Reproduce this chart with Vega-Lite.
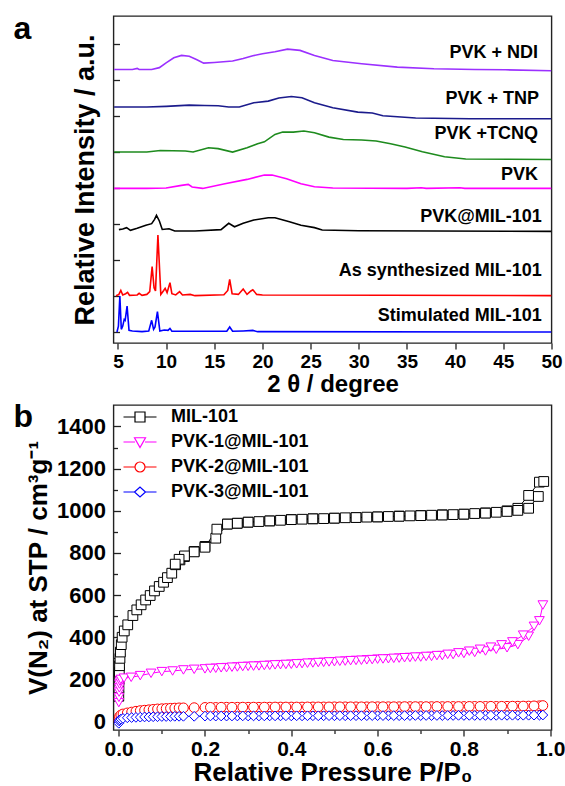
{
"$schema": "https://vega.github.io/schema/vega-lite/v6.json",
"background": "white",
"padding": {"left": 12.5, "top": 12, "right": 5, "bottom": 0},
"spacing": 3,
"resolve": {"legend": {"stroke": "independent", "shape": "independent", "color": "independent"}},
"config": {
  "font": "Liberation Sans",
  "view": {"stroke": "#222222", "strokeWidth": 1.4},
  "axis": {"domain": false, "grid": false, "labelFont": "Liberation Sans", "labelFontWeight": "bold", "labelColor": "black", "titleFont": "Liberation Sans", "titleFontWeight": "bold", "titleColor": "black", "tickColor": "#222222", "tickWidth": 1.3, "labelFlush": false, "labelOverlap": false},
  "title": {"font": "Liberation Sans", "fontWeight": "bold", "color": "black"},
  "legend": {"orient": "top-left", "offset": 3, "padding": 0, "labelFontSize": 18, "labelFont": "Liberation Sans", "labelFontWeight": "bold", "labelColor": "black", "labelLimit": 300, "symbolSize": 100, "symbolStrokeWidth": 1.2, "symbolFillColor": "white", "symbolOffset": 14.5, "labelOffset": 22, "rowPadding": 7}
},
"datasets": {
  "xrd": [
    {"s":"NDI","t":4.6,"v":14.59},{"s":"NDI","t":6.5,"v":14.59},{"s":"NDI","t":7.0,"v":14.65},{"s":"NDI","t":7.2,"v":14.59},{"s":"NDI","t":8.5,"v":14.59},{"s":"NDI","t":9.3,"v":14.69},{"s":"NDI","t":10.0,"v":14.96},{"s":"NDI","t":10.8,"v":15.24},{"s":"NDI","t":11.6,"v":15.37},{"s":"NDI","t":12.4,"v":15.32},{"s":"NDI","t":13.2,"v":15.13},{"s":"NDI","t":13.9,"v":14.94},{"s":"NDI","t":15.0,"v":14.98},{"s":"NDI","t":16.9,"v":15.06},{"s":"NDI","t":18.0,"v":15.2},{"s":"NDI","t":19.0,"v":15.35},{"s":"NDI","t":20.0,"v":15.46},{"s":"NDI","t":21.3,"v":15.57},{"s":"NDI","t":22.6,"v":15.72},{"s":"NDI","t":23.9,"v":15.65},{"s":"NDI","t":25.4,"v":15.37},{"s":"NDI","t":27.3,"v":15.09},{"s":"NDI","t":30.3,"v":14.91},{"s":"NDI","t":34.0,"v":14.72},{"s":"NDI","t":37.8,"v":14.63},{"s":"NDI","t":42.0,"v":14.59},{"s":"NDI","t":45.2,"v":14.57},{"s":"NDI","t":50,"v":14.52},
    {"s":"TNP","t":4.6,"v":12.5},{"s":"TNP","t":8,"v":12.5},{"s":"TNP","t":10,"v":12.54},{"s":"TNP","t":12.4,"v":12.61},{"s":"TNP","t":14,"v":12.59},{"s":"TNP","t":15.4,"v":12.57},{"s":"TNP","t":16.5,"v":12.5},{"s":"TNP","t":17.6,"v":12.5},{"s":"TNP","t":19.1,"v":12.74},{"s":"TNP","t":20.6,"v":12.83},{"s":"TNP","t":21.7,"v":13.0},{"s":"TNP","t":23.0,"v":13.09},{"s":"TNP","t":24.1,"v":13.02},{"s":"TNP","t":25.4,"v":12.74},{"s":"TNP","t":27.3,"v":12.46},{"s":"TNP","t":29.9,"v":12.22},{"s":"TNP","t":31.4,"v":12.17},{"s":"TNP","t":32.5,"v":12.02},{"s":"TNP","t":35.9,"v":11.89},{"s":"TNP","t":41.5,"v":11.85},{"s":"TNP","t":50,"v":11.85},
    {"s":"TCNQ","t":4.6,"v":10.0},{"s":"TCNQ","t":8,"v":10.0},{"s":"TCNQ","t":9.4,"v":10.09},{"s":"TCNQ","t":12.0,"v":10.06},{"s":"TCNQ","t":12.8,"v":10.0},{"s":"TCNQ","t":14.4,"v":10.24},{"s":"TCNQ","t":15.4,"v":10.19},{"s":"TCNQ","t":16.9,"v":10.0},{"s":"TCNQ","t":18.4,"v":10.24},{"s":"TCNQ","t":19.5,"v":10.46},{"s":"TCNQ","t":20.2,"v":10.57},{"s":"TCNQ","t":21.3,"v":10.98},{"s":"TCNQ","t":22.1,"v":11.11},{"s":"TCNQ","t":23.2,"v":11.11},{"s":"TCNQ","t":24.3,"v":11.17},{"s":"TCNQ","t":25.4,"v":11.07},{"s":"TCNQ","t":26.9,"v":10.83},{"s":"TCNQ","t":28.4,"v":10.7},{"s":"TCNQ","t":30.3,"v":10.67},{"s":"TCNQ","t":31.8,"v":10.61},{"s":"TCNQ","t":33.3,"v":10.46},{"s":"TCNQ","t":34.8,"v":10.28},{"s":"TCNQ","t":36.6,"v":10.02},{"s":"TCNQ","t":38.9,"v":9.74},{"s":"TCNQ","t":41.1,"v":9.61},{"s":"TCNQ","t":50,"v":9.59},
    {"s":"PVK","t":4.6,"v":7.98},{"s":"PVK","t":8,"v":7.98},{"s":"PVK","t":10,"v":8.0},{"s":"PVK","t":11.6,"v":8.15},{"s":"PVK","t":12.3,"v":8.2},{"s":"PVK","t":12.7,"v":8.06},{"s":"PVK","t":13.8,"v":7.98},{"s":"PVK","t":16.1,"v":8.24},{"s":"PVK","t":18.4,"v":8.48},{"s":"PVK","t":20.2,"v":8.72},{"s":"PVK","t":21.0,"v":8.72},{"s":"PVK","t":22.5,"v":8.52},{"s":"PVK","t":24.0,"v":8.24},{"s":"PVK","t":25.4,"v":8.07},{"s":"PVK","t":27.3,"v":8.0},{"s":"PVK","t":35,"v":7.98},{"s":"PVK","t":36.5,"v":8.02},{"s":"PVK","t":37,"v":7.98},{"s":"PVK","t":40.5,"v":8.02},{"s":"PVK","t":41,"v":7.98},{"s":"PVK","t":50,"v":7.98},
    {"s":"PM","t":5.1,"v":5.69},{"s":"PM","t":5.5,"v":5.72},{"s":"PM","t":5.9,"v":5.8},{"s":"PM","t":6.3,"v":5.65},{"s":"PM","t":7.0,"v":5.76},{"s":"PM","t":7.9,"v":5.93},{"s":"PM","t":8.5,"v":6.02},{"s":"PM","t":8.8,"v":6.26},{"s":"PM","t":9.0,"v":6.48},{"s":"PM","t":9.3,"v":6.17},{"s":"PM","t":9.6,"v":5.7},{"s":"PM","t":10.3,"v":5.74},{"s":"PM","t":10.9,"v":5.61},{"s":"PM","t":13,"v":5.61},{"s":"PM","t":15.7,"v":5.69},{"s":"PM","t":16.5,"v":6.04},{"s":"PM","t":17.1,"v":5.85},{"s":"PM","t":18.0,"v":6.04},{"s":"PM","t":19.1,"v":6.22},{"s":"PM","t":20.6,"v":6.35},{"s":"PM","t":21.3,"v":6.35},{"s":"PM","t":22.8,"v":6.13},{"s":"PM","t":24.0,"v":5.93},{"s":"PM","t":25.4,"v":5.8},{"s":"PM","t":26.2,"v":5.67},{"s":"PM","t":30,"v":5.63},{"s":"PM","t":50,"v":5.59},
    {"s":"AS","t":4.8,"v":2.02},{"s":"AS","t":5.1,"v":2.09},{"s":"AS","t":5.3,"v":2.31},{"s":"AS","t":5.5,"v":2.06},{"s":"AS","t":5.8,"v":2.13},{"s":"AS","t":6.0,"v":2.2},{"s":"AS","t":6.2,"v":2.04},{"s":"AS","t":7.0,"v":2.06},{"s":"AS","t":7.2,"v":2.15},{"s":"AS","t":7.5,"v":2.04},{"s":"AS","t":8.0,"v":2.09},{"s":"AS","t":8.3,"v":2.24},{"s":"AS","t":8.55,"v":3.63},{"s":"AS","t":8.75,"v":2.46},{"s":"AS","t":8.9,"v":2.28},{"s":"AS","t":9.15,"v":5.39},{"s":"AS","t":9.45,"v":2.09},{"s":"AS","t":9.75,"v":2.31},{"s":"AS","t":9.9,"v":2.43},{"s":"AS","t":10.1,"v":2.19},{"s":"AS","t":10.4,"v":2.74},{"s":"AS","t":10.6,"v":2.13},{"s":"AS","t":11.0,"v":2.06},{"s":"AS","t":11.4,"v":2.24},{"s":"AS","t":11.7,"v":2.06},{"s":"AS","t":12.5,"v":2.09},{"s":"AS","t":13,"v":2.02},{"s":"AS","t":16.0,"v":2.07},{"s":"AS","t":16.4,"v":2.31},{"s":"AS","t":16.6,"v":2.93},{"s":"AS","t":16.85,"v":2.13},{"s":"AS","t":17.5,"v":2.09},{"s":"AS","t":18.0,"v":2.39},{"s":"AS","t":18.4,"v":2.09},{"s":"AS","t":18.8,"v":2.28},{"s":"AS","t":19.0,"v":2.35},{"s":"AS","t":19.4,"v":2.09},{"s":"AS","t":20,"v":2.06},{"s":"AS","t":50,"v":2.02},
    {"s":"ST","t":4.9,"v":0},{"s":"ST","t":5.05,"v":0.33},{"s":"ST","t":5.2,"v":2.0},{"s":"ST","t":5.35,"v":0.15},{"s":"ST","t":5.5,"v":0.33},{"s":"ST","t":5.65,"v":0.7},{"s":"ST","t":5.75,"v":0.65},{"s":"ST","t":5.95,"v":1.44},{"s":"ST","t":6.15,"v":0.09},{"s":"ST","t":6.5,"v":0.06},{"s":"ST","t":7.5,"v":0.02},{"s":"ST","t":8.2,"v":0.06},{"s":"ST","t":8.5,"v":0.65},{"s":"ST","t":8.7,"v":0.15},{"s":"ST","t":8.85,"v":0.28},{"s":"ST","t":9.1,"v":1.13},{"s":"ST","t":9.35,"v":0.06},{"s":"ST","t":9.8,"v":0.11},{"s":"ST","t":10.2,"v":0.09},{"s":"ST","t":10.4,"v":0.2},{"s":"ST","t":10.6,"v":0.04},{"s":"ST","t":11.5,"v":0.04},{"s":"ST","t":16.3,"v":0.04},{"s":"ST","t":16.6,"v":0.28},{"s":"ST","t":16.9,"v":0.04},{"s":"ST","t":18,"v":0.06},{"s":"ST","t":19,"v":0.09},{"s":"ST","t":19.5,"v":0.02},{"s":"ST","t":50,"v":0}
  ],
  "lab": [
    {"s":"PVK + NDI","t":48.6,"v":15.52},{"s":"PVK + TNP","t":48.7,"v":12.96},{"s":"PVK +TCNQ","t":48.6,"v":11.02},{"s":"PVK","t":48.6,"v":8.7},{"s":"PVK@MIL-101","t":49.0,"v":6.39},{"s":"As synthesized MIL-101","t":49.0,"v":3.39},{"s":"Stimulated MIL-101","t":49.0,"v":0.89}
  ],
  "iso": [
    {"s":"MIL-101","b":"a","p":0.0003,"v":120},{"s":"MIL-101","b":"a","p":0.0006,"v":160},{"s":"MIL-101","b":"a","p":0.001,"v":200},{"s":"MIL-101","b":"a","p":0.0015,"v":235},{"s":"MIL-101","b":"a","p":0.002,"v":265},{"s":"MIL-101","b":"a","p":0.003,"v":300},{"s":"MIL-101","b":"a","p":0.004,"v":330},{"s":"MIL-101","b":"a","p":0.006,"v":365},{"s":"MIL-101","b":"a","p":0.008,"v":400},{"s":"MIL-101","b":"a","p":0.013,"v":430},{"s":"MIL-101","b":"a","p":0.021,"v":459},{"s":"MIL-101","b":"a","p":0.033,"v":503},{"s":"MIL-101","b":"a","p":0.042,"v":530},{"s":"MIL-101","b":"a","p":0.052,"v":554},{"s":"MIL-101","b":"a","p":0.0625,"v":577},{"s":"MIL-101","b":"a","p":0.073,"v":598},{"s":"MIL-101","b":"a","p":0.083,"v":620},{"s":"MIL-101","b":"a","p":0.094,"v":641},{"s":"MIL-101","b":"a","p":0.104,"v":661},{"s":"MIL-101","b":"a","p":0.113,"v":683},{"s":"MIL-101","b":"a","p":0.123,"v":704},{"s":"MIL-101","b":"a","p":0.132,"v":744},{"s":"MIL-101","b":"a","p":0.142,"v":767},{"s":"MIL-101","b":"a","p":0.1525,"v":783},{"s":"MIL-101","b":"a","p":0.175,"v":807},{"s":"MIL-101","b":"a","p":0.2,"v":831},{"s":"MIL-101","b":"a","p":0.225,"v":870},{"s":"MIL-101","b":"a","p":0.252,"v":937},{"s":"MIL-101","b":"a","p":0.275,"v":941},{"s":"MIL-101","b":"a","p":0.3,"v":946},{"s":"MIL-101","b":"a","p":0.325,"v":949},{"s":"MIL-101","b":"a","p":0.35,"v":952},{"s":"MIL-101","b":"a","p":0.375,"v":955},{"s":"MIL-101","b":"a","p":0.4,"v":959},{"s":"MIL-101","b":"a","p":0.425,"v":960},{"s":"MIL-101","b":"a","p":0.45,"v":962},{"s":"MIL-101","b":"a","p":0.475,"v":963},{"s":"MIL-101","b":"a","p":0.5,"v":965},{"s":"MIL-101","b":"a","p":0.525,"v":967},{"s":"MIL-101","b":"a","p":0.55,"v":968},{"s":"MIL-101","b":"a","p":0.575,"v":970},{"s":"MIL-101","b":"a","p":0.6,"v":971},{"s":"MIL-101","b":"a","p":0.625,"v":973},{"s":"MIL-101","b":"a","p":0.65,"v":975},{"s":"MIL-101","b":"a","p":0.675,"v":976},{"s":"MIL-101","b":"a","p":0.7,"v":978},{"s":"MIL-101","b":"a","p":0.725,"v":979},{"s":"MIL-101","b":"a","p":0.75,"v":981},{"s":"MIL-101","b":"a","p":0.775,"v":982},{"s":"MIL-101","b":"a","p":0.8,"v":984},{"s":"MIL-101","b":"a","p":0.825,"v":987},{"s":"MIL-101","b":"a","p":0.85,"v":990},{"s":"MIL-101","b":"a","p":0.875,"v":993},{"s":"MIL-101","b":"a","p":0.9,"v":1000},{"s":"MIL-101","b":"a","p":0.925,"v":1012},{"s":"MIL-101","b":"a","p":0.95,"v":1073},{"s":"MIL-101","b":"a","p":0.975,"v":1136},{"s":"MIL-101","b":"a","p":0.985,"v":1139},
    {"s":"MIL-101","b":"d","p":0.9725,"v":1068},{"s":"MIL-101","b":"d","p":0.95,"v":1012},{"s":"MIL-101","b":"d","p":0.925,"v":1002},{"s":"MIL-101","b":"d","p":0.9,"v":997},{"s":"MIL-101","b":"d","p":0.85,"v":989},{"s":"MIL-101","b":"d","p":0.8,"v":984},{"s":"MIL-101","b":"d","p":0.75,"v":980},{"s":"MIL-101","b":"d","p":0.7,"v":977},{"s":"MIL-101","b":"d","p":0.65,"v":974},{"s":"MIL-101","b":"d","p":0.6,"v":971},{"s":"MIL-101","b":"d","p":0.55,"v":968},{"s":"MIL-101","b":"d","p":0.5,"v":965},{"s":"MIL-101","b":"d","p":0.45,"v":962},{"s":"MIL-101","b":"d","p":0.4,"v":958},{"s":"MIL-101","b":"d","p":0.35,"v":952},{"s":"MIL-101","b":"d","p":0.3,"v":946},{"s":"MIL-101","b":"d","p":0.275,"v":941},{"s":"MIL-101","b":"d","p":0.252,"v":937},{"s":"MIL-101","b":"d","p":0.2275,"v":913},{"s":"MIL-101","b":"d","p":0.2,"v":827},{"s":"MIL-101","b":"d","p":0.175,"v":805},{"s":"MIL-101","b":"d","p":0.1525,"v":786},{"s":"MIL-101","b":"d","p":0.14,"v":770},{"s":"MIL-101","b":"d","p":0.131,"v":747},
    {"s":"PVK-1@MIL-101","b":"a","p":0.0003,"v":90},{"s":"PVK-1@MIL-101","b":"a","p":0.0006,"v":115},{"s":"PVK-1@MIL-101","b":"a","p":0.001,"v":140},{"s":"PVK-1@MIL-101","b":"a","p":0.0015,"v":160},{"s":"PVK-1@MIL-101","b":"a","p":0.002,"v":178},{"s":"PVK-1@MIL-101","b":"a","p":0.003,"v":192},{"s":"PVK-1@MIL-101","b":"a","p":0.005,"v":200},{"s":"PVK-1@MIL-101","b":"a","p":0.0125,"v":206},{"s":"PVK-1@MIL-101","b":"a","p":0.029,"v":210},{"s":"PVK-1@MIL-101","b":"a","p":0.05,"v":218},{"s":"PVK-1@MIL-101","b":"a","p":0.075,"v":229},{"s":"PVK-1@MIL-101","b":"a","p":0.1,"v":237},{"s":"PVK-1@MIL-101","b":"a","p":0.125,"v":240},{"s":"PVK-1@MIL-101","b":"a","p":0.15,"v":245},{"s":"PVK-1@MIL-101","b":"a","p":0.175,"v":248},{"s":"PVK-1@MIL-101","b":"a","p":0.2,"v":250},{"s":"PVK-1@MIL-101","b":"a","p":0.225,"v":253},{"s":"PVK-1@MIL-101","b":"a","p":0.25,"v":256},{"s":"PVK-1@MIL-101","b":"a","p":0.275,"v":259},{"s":"PVK-1@MIL-101","b":"a","p":0.3,"v":262},{"s":"PVK-1@MIL-101","b":"a","p":0.325,"v":264},{"s":"PVK-1@MIL-101","b":"a","p":0.35,"v":267},{"s":"PVK-1@MIL-101","b":"a","p":0.375,"v":270},{"s":"PVK-1@MIL-101","b":"a","p":0.4,"v":272},{"s":"PVK-1@MIL-101","b":"a","p":0.425,"v":275},{"s":"PVK-1@MIL-101","b":"a","p":0.45,"v":278},{"s":"PVK-1@MIL-101","b":"a","p":0.475,"v":281},{"s":"PVK-1@MIL-101","b":"a","p":0.5,"v":284},{"s":"PVK-1@MIL-101","b":"a","p":0.525,"v":287},{"s":"PVK-1@MIL-101","b":"a","p":0.55,"v":290},{"s":"PVK-1@MIL-101","b":"a","p":0.575,"v":293},{"s":"PVK-1@MIL-101","b":"a","p":0.6,"v":296},{"s":"PVK-1@MIL-101","b":"a","p":0.625,"v":298},{"s":"PVK-1@MIL-101","b":"a","p":0.65,"v":301},{"s":"PVK-1@MIL-101","b":"a","p":0.675,"v":304},{"s":"PVK-1@MIL-101","b":"a","p":0.7,"v":306},{"s":"PVK-1@MIL-101","b":"a","p":0.725,"v":309},{"s":"PVK-1@MIL-101","b":"a","p":0.75,"v":313},{"s":"PVK-1@MIL-101","b":"a","p":0.775,"v":318},{"s":"PVK-1@MIL-101","b":"a","p":0.8,"v":323},{"s":"PVK-1@MIL-101","b":"a","p":0.825,"v":328},{"s":"PVK-1@MIL-101","b":"a","p":0.85,"v":335},{"s":"PVK-1@MIL-101","b":"a","p":0.875,"v":343},{"s":"PVK-1@MIL-101","b":"a","p":0.9,"v":350},{"s":"PVK-1@MIL-101","b":"a","p":0.925,"v":365},{"s":"PVK-1@MIL-101","b":"a","p":0.95,"v":405},{"s":"PVK-1@MIL-101","b":"a","p":0.975,"v":478},{"s":"PVK-1@MIL-101","b":"a","p":0.983,"v":553},
    {"s":"PVK-1@MIL-101","b":"d","p":0.9625,"v":452},{"s":"PVK-1@MIL-101","b":"d","p":0.9375,"v":410},{"s":"PVK-1@MIL-101","b":"d","p":0.9125,"v":378},{"s":"PVK-1@MIL-101","b":"d","p":0.8875,"v":364},{"s":"PVK-1@MIL-101","b":"d","p":0.8625,"v":353},{"s":"PVK-1@MIL-101","b":"d","p":0.8375,"v":343},{"s":"PVK-1@MIL-101","b":"d","p":0.8125,"v":334},{"s":"PVK-1@MIL-101","b":"d","p":0.7875,"v":326},{"s":"PVK-1@MIL-101","b":"d","p":0.7625,"v":319},{"s":"PVK-1@MIL-101","b":"d","p":0.7375,"v":313},{"s":"PVK-1@MIL-101","b":"d","p":0.7125,"v":309},{"s":"PVK-1@MIL-101","b":"d","p":0.6875,"v":306},{"s":"PVK-1@MIL-101","b":"d","p":0.6625,"v":303},{"s":"PVK-1@MIL-101","b":"d","p":0.6375,"v":300},{"s":"PVK-1@MIL-101","b":"d","p":0.6125,"v":297},{"s":"PVK-1@MIL-101","b":"d","p":0.5875,"v":294},{"s":"PVK-1@MIL-101","b":"d","p":0.5625,"v":291},{"s":"PVK-1@MIL-101","b":"d","p":0.5375,"v":289},{"s":"PVK-1@MIL-101","b":"d","p":0.5125,"v":286},{"s":"PVK-1@MIL-101","b":"d","p":0.4875,"v":283},{"s":"PVK-1@MIL-101","b":"d","p":0.4625,"v":280},{"s":"PVK-1@MIL-101","b":"d","p":0.4375,"v":277},{"s":"PVK-1@MIL-101","b":"d","p":0.4125,"v":274},{"s":"PVK-1@MIL-101","b":"d","p":0.3875,"v":271},{"s":"PVK-1@MIL-101","b":"d","p":0.3625,"v":269},{"s":"PVK-1@MIL-101","b":"d","p":0.3375,"v":266},{"s":"PVK-1@MIL-101","b":"d","p":0.3125,"v":263},{"s":"PVK-1@MIL-101","b":"d","p":0.2875,"v":261},{"s":"PVK-1@MIL-101","b":"d","p":0.2625,"v":258},{"s":"PVK-1@MIL-101","b":"d","p":0.2375,"v":255},{"s":"PVK-1@MIL-101","b":"d","p":0.2125,"v":252},
    {"s":"PVK-2@MIL-101","b":"a","p":0.0003,"v":5},{"s":"PVK-2@MIL-101","b":"a","p":0.001,"v":15},{"s":"PVK-2@MIL-101","b":"a","p":0.002,"v":24},{"s":"PVK-2@MIL-101","b":"a","p":0.005,"v":31},{"s":"PVK-2@MIL-101","b":"a","p":0.01,"v":36},{"s":"PVK-2@MIL-101","b":"a","p":0.02,"v":41},{"s":"PVK-2@MIL-101","b":"a","p":0.03,"v":45},{"s":"PVK-2@MIL-101","b":"a","p":0.04,"v":49},{"s":"PVK-2@MIL-101","b":"a","p":0.05,"v":52},{"s":"PVK-2@MIL-101","b":"a","p":0.06,"v":54},{"s":"PVK-2@MIL-101","b":"a","p":0.07,"v":56},{"s":"PVK-2@MIL-101","b":"a","p":0.08,"v":58},{"s":"PVK-2@MIL-101","b":"a","p":0.09,"v":60},{"s":"PVK-2@MIL-101","b":"a","p":0.1,"v":61},{"s":"PVK-2@MIL-101","b":"a","p":0.11,"v":62},{"s":"PVK-2@MIL-101","b":"a","p":0.12,"v":63},{"s":"PVK-2@MIL-101","b":"a","p":0.13,"v":64},{"s":"PVK-2@MIL-101","b":"a","p":0.14,"v":65},{"s":"PVK-2@MIL-101","b":"a","p":0.15,"v":65},{"s":"PVK-2@MIL-101","b":"a","p":0.175,"v":66},{"s":"PVK-2@MIL-101","b":"a","p":0.2,"v":67},{"s":"PVK-2@MIL-101","b":"a","p":0.225,"v":67},{"s":"PVK-2@MIL-101","b":"a","p":0.25,"v":68},{"s":"PVK-2@MIL-101","b":"a","p":0.275,"v":68},{"s":"PVK-2@MIL-101","b":"a","p":0.3,"v":68},{"s":"PVK-2@MIL-101","b":"a","p":0.325,"v":68},{"s":"PVK-2@MIL-101","b":"a","p":0.35,"v":68.5},{"s":"PVK-2@MIL-101","b":"a","p":0.375,"v":69},{"s":"PVK-2@MIL-101","b":"a","p":0.4,"v":69},{"s":"PVK-2@MIL-101","b":"a","p":0.425,"v":69},{"s":"PVK-2@MIL-101","b":"a","p":0.45,"v":69.5},{"s":"PVK-2@MIL-101","b":"a","p":0.475,"v":69.5},{"s":"PVK-2@MIL-101","b":"a","p":0.5,"v":70},{"s":"PVK-2@MIL-101","b":"a","p":0.525,"v":70},{"s":"PVK-2@MIL-101","b":"a","p":0.55,"v":70},{"s":"PVK-2@MIL-101","b":"a","p":0.575,"v":70},{"s":"PVK-2@MIL-101","b":"a","p":0.6,"v":70.5},{"s":"PVK-2@MIL-101","b":"a","p":0.625,"v":70.5},{"s":"PVK-2@MIL-101","b":"a","p":0.65,"v":70.5},{"s":"PVK-2@MIL-101","b":"a","p":0.675,"v":71},{"s":"PVK-2@MIL-101","b":"a","p":0.7,"v":71},{"s":"PVK-2@MIL-101","b":"a","p":0.725,"v":71},{"s":"PVK-2@MIL-101","b":"a","p":0.75,"v":71},{"s":"PVK-2@MIL-101","b":"a","p":0.775,"v":71.5},{"s":"PVK-2@MIL-101","b":"a","p":0.8,"v":71.5},{"s":"PVK-2@MIL-101","b":"a","p":0.825,"v":72},{"s":"PVK-2@MIL-101","b":"a","p":0.85,"v":72},{"s":"PVK-2@MIL-101","b":"a","p":0.875,"v":72},{"s":"PVK-2@MIL-101","b":"a","p":0.9,"v":72.5},{"s":"PVK-2@MIL-101","b":"a","p":0.925,"v":73},{"s":"PVK-2@MIL-101","b":"a","p":0.95,"v":73.5},{"s":"PVK-2@MIL-101","b":"a","p":0.975,"v":75},{"s":"PVK-2@MIL-101","b":"a","p":0.983,"v":76},
    {"s":"PVK-2@MIL-101","b":"d","p":0.9625,"v":74.5},{"s":"PVK-2@MIL-101","b":"d","p":0.9375,"v":73.5},{"s":"PVK-2@MIL-101","b":"d","p":0.9125,"v":73},{"s":"PVK-2@MIL-101","b":"d","p":0.8875,"v":72.5},{"s":"PVK-2@MIL-101","b":"d","p":0.8625,"v":72.5},{"s":"PVK-2@MIL-101","b":"d","p":0.8375,"v":72},{"s":"PVK-2@MIL-101","b":"d","p":0.8125,"v":72},{"s":"PVK-2@MIL-101","b":"d","p":0.7875,"v":71.5},{"s":"PVK-2@MIL-101","b":"d","p":0.7625,"v":71.5},{"s":"PVK-2@MIL-101","b":"d","p":0.7375,"v":71.5},{"s":"PVK-2@MIL-101","b":"d","p":0.7125,"v":71},{"s":"PVK-2@MIL-101","b":"d","p":0.6875,"v":71},{"s":"PVK-2@MIL-101","b":"d","p":0.6625,"v":71},{"s":"PVK-2@MIL-101","b":"d","p":0.6375,"v":70.5},{"s":"PVK-2@MIL-101","b":"d","p":0.6125,"v":70.5},{"s":"PVK-2@MIL-101","b":"d","p":0.5875,"v":70.5},{"s":"PVK-2@MIL-101","b":"d","p":0.5625,"v":70},{"s":"PVK-2@MIL-101","b":"d","p":0.5375,"v":70},{"s":"PVK-2@MIL-101","b":"d","p":0.5125,"v":70},{"s":"PVK-2@MIL-101","b":"d","p":0.4875,"v":69.5},{"s":"PVK-2@MIL-101","b":"d","p":0.4625,"v":69.5},{"s":"PVK-2@MIL-101","b":"d","p":0.4375,"v":69.5},{"s":"PVK-2@MIL-101","b":"d","p":0.4125,"v":69},{"s":"PVK-2@MIL-101","b":"d","p":0.3875,"v":69},{"s":"PVK-2@MIL-101","b":"d","p":0.3625,"v":69},{"s":"PVK-2@MIL-101","b":"d","p":0.3375,"v":68.5},{"s":"PVK-2@MIL-101","b":"d","p":0.3125,"v":68.5},{"s":"PVK-2@MIL-101","b":"d","p":0.2875,"v":68.5},{"s":"PVK-2@MIL-101","b":"d","p":0.2625,"v":68},{"s":"PVK-2@MIL-101","b":"d","p":0.2375,"v":68},{"s":"PVK-2@MIL-101","b":"d","p":0.2125,"v":67.5},
    {"s":"PVK-3@MIL-101","b":"a","p":0.0003,"v":-8},{"s":"PVK-3@MIL-101","b":"a","p":0.001,"v":3},{"s":"PVK-3@MIL-101","b":"a","p":0.002,"v":8},{"s":"PVK-3@MIL-101","b":"a","p":0.005,"v":12},{"s":"PVK-3@MIL-101","b":"a","p":0.01,"v":15},{"s":"PVK-3@MIL-101","b":"a","p":0.02,"v":18},{"s":"PVK-3@MIL-101","b":"a","p":0.03,"v":19},{"s":"PVK-3@MIL-101","b":"a","p":0.04,"v":20},{"s":"PVK-3@MIL-101","b":"a","p":0.05,"v":21},{"s":"PVK-3@MIL-101","b":"a","p":0.06,"v":22},{"s":"PVK-3@MIL-101","b":"a","p":0.07,"v":22},{"s":"PVK-3@MIL-101","b":"a","p":0.08,"v":23},{"s":"PVK-3@MIL-101","b":"a","p":0.09,"v":23},{"s":"PVK-3@MIL-101","b":"a","p":0.1,"v":24},{"s":"PVK-3@MIL-101","b":"a","p":0.11,"v":24},{"s":"PVK-3@MIL-101","b":"a","p":0.12,"v":24},{"s":"PVK-3@MIL-101","b":"a","p":0.13,"v":25},{"s":"PVK-3@MIL-101","b":"a","p":0.14,"v":25},{"s":"PVK-3@MIL-101","b":"a","p":0.15,"v":25},{"s":"PVK-3@MIL-101","b":"a","p":0.175,"v":25},{"s":"PVK-3@MIL-101","b":"a","p":0.2,"v":26},{"s":"PVK-3@MIL-101","b":"a","p":0.225,"v":26},{"s":"PVK-3@MIL-101","b":"a","p":0.25,"v":26},{"s":"PVK-3@MIL-101","b":"a","p":0.275,"v":26.5},{"s":"PVK-3@MIL-101","b":"a","p":0.3,"v":26.5},{"s":"PVK-3@MIL-101","b":"a","p":0.325,"v":26.5},{"s":"PVK-3@MIL-101","b":"a","p":0.35,"v":27},{"s":"PVK-3@MIL-101","b":"a","p":0.375,"v":27},{"s":"PVK-3@MIL-101","b":"a","p":0.4,"v":27},{"s":"PVK-3@MIL-101","b":"a","p":0.425,"v":27},{"s":"PVK-3@MIL-101","b":"a","p":0.45,"v":27.5},{"s":"PVK-3@MIL-101","b":"a","p":0.475,"v":27.5},{"s":"PVK-3@MIL-101","b":"a","p":0.5,"v":27.5},{"s":"PVK-3@MIL-101","b":"a","p":0.525,"v":27.5},{"s":"PVK-3@MIL-101","b":"a","p":0.55,"v":28},{"s":"PVK-3@MIL-101","b":"a","p":0.575,"v":28},{"s":"PVK-3@MIL-101","b":"a","p":0.6,"v":28},{"s":"PVK-3@MIL-101","b":"a","p":0.625,"v":28},{"s":"PVK-3@MIL-101","b":"a","p":0.65,"v":28},{"s":"PVK-3@MIL-101","b":"a","p":0.675,"v":28.5},{"s":"PVK-3@MIL-101","b":"a","p":0.7,"v":28.5},{"s":"PVK-3@MIL-101","b":"a","p":0.725,"v":28.5},{"s":"PVK-3@MIL-101","b":"a","p":0.75,"v":28.5},{"s":"PVK-3@MIL-101","b":"a","p":0.775,"v":29},{"s":"PVK-3@MIL-101","b":"a","p":0.8,"v":29},{"s":"PVK-3@MIL-101","b":"a","p":0.825,"v":29},{"s":"PVK-3@MIL-101","b":"a","p":0.85,"v":29},{"s":"PVK-3@MIL-101","b":"a","p":0.875,"v":29.5},{"s":"PVK-3@MIL-101","b":"a","p":0.9,"v":29.5},{"s":"PVK-3@MIL-101","b":"a","p":0.925,"v":29.5},{"s":"PVK-3@MIL-101","b":"a","p":0.95,"v":30},{"s":"PVK-3@MIL-101","b":"a","p":0.975,"v":30.5},{"s":"PVK-3@MIL-101","b":"a","p":0.983,"v":31},
    {"s":"PVK-3@MIL-101","b":"d","p":0.9625,"v":30.5},{"s":"PVK-3@MIL-101","b":"d","p":0.9375,"v":30},{"s":"PVK-3@MIL-101","b":"d","p":0.9125,"v":30},{"s":"PVK-3@MIL-101","b":"d","p":0.8875,"v":30},{"s":"PVK-3@MIL-101","b":"d","p":0.8625,"v":29.5},{"s":"PVK-3@MIL-101","b":"d","p":0.8375,"v":29.5},{"s":"PVK-3@MIL-101","b":"d","p":0.8125,"v":29.5},{"s":"PVK-3@MIL-101","b":"d","p":0.7875,"v":29.5},{"s":"PVK-3@MIL-101","b":"d","p":0.7625,"v":29},{"s":"PVK-3@MIL-101","b":"d","p":0.7375,"v":29},{"s":"PVK-3@MIL-101","b":"d","p":0.7125,"v":29},{"s":"PVK-3@MIL-101","b":"d","p":0.6875,"v":29},{"s":"PVK-3@MIL-101","b":"d","p":0.6625,"v":28.5},{"s":"PVK-3@MIL-101","b":"d","p":0.6375,"v":28.5},{"s":"PVK-3@MIL-101","b":"d","p":0.6125,"v":28.5},{"s":"PVK-3@MIL-101","b":"d","p":0.5875,"v":28.5},{"s":"PVK-3@MIL-101","b":"d","p":0.5625,"v":28},{"s":"PVK-3@MIL-101","b":"d","p":0.5375,"v":28},{"s":"PVK-3@MIL-101","b":"d","p":0.5125,"v":28},{"s":"PVK-3@MIL-101","b":"d","p":0.4875,"v":28},{"s":"PVK-3@MIL-101","b":"d","p":0.4625,"v":27.5},{"s":"PVK-3@MIL-101","b":"d","p":0.4375,"v":27.5},{"s":"PVK-3@MIL-101","b":"d","p":0.4125,"v":27.5},{"s":"PVK-3@MIL-101","b":"d","p":0.3875,"v":27.5},{"s":"PVK-3@MIL-101","b":"d","p":0.3625,"v":27},{"s":"PVK-3@MIL-101","b":"d","p":0.3375,"v":27},{"s":"PVK-3@MIL-101","b":"d","p":0.3125,"v":27},{"s":"PVK-3@MIL-101","b":"d","p":0.2875,"v":27},{"s":"PVK-3@MIL-101","b":"d","p":0.2625,"v":26.5},{"s":"PVK-3@MIL-101","b":"d","p":0.2375,"v":26.5},{"s":"PVK-3@MIL-101","b":"d","p":0.2125,"v":26.5}
  ]
},
"vconcat": [
  {
    "width": 438, "height": 327,
    "title": {"text": "a", "anchor": "start", "frame": "group", "orient": "top", "offset": -55, "dx": -100, "fontSize": 32, "baseline": "alphabetic"},
    "layer": [
      {
        "data": {"name": "xrd"},
        "mark": {"type": "line", "strokeWidth": 1.6, "clip": true},
        "encoding": {
          "x": {"field": "t", "type": "quantitative", "scale": {"domain": [4.54, 50], "nice": false, "zero": false},
                "axis": {"title": "2 θ / degree", "values": [5,7.5,10,12.5,15,17.5,20,22.5,25,27.5,30,32.5,35,37.5,40,42.5,45,47.5,50],
                         "labelExpr": "datum.value % 5 == 0 ? format(datum.value, 'd') : ''",
                         "tickSize": {"condition": {"test": "datum.value % 5 == 0", "value": 6}, "value": 3.5},
                         "labelFontSize": 19, "titleFontSize": 24, "labelPadding": 3, "titlePadding": 1}},
          "y": {"field": "v", "type": "quantitative", "scale": {"domain": [-0.61, 17.56], "nice": false, "zero": false},
                "axis": {"title": "Relative Intensity / a.u.", "values": [0,1,2,3,4,5,6,7,8,9,10,11,12,13,14,15,16], "labels": false, "tickSize": -6, "titleFontSize": 27, "titlePadding": 13}},
          "color": {"field": "s", "type": "nominal", "legend": null,
                    "scale": {"domain": ["NDI","TNP","TCNQ","PVK","PM","AS","ST"], "range": ["#9B30FF","#1B1B8C","#1E8B1E","#FF00FF","#000000","#FF0000","#0000FF"]}}
        }
      },
      {
        "data": {"name": "lab"},
        "mark": {"type": "text", "align": "right", "baseline": "middle", "fontSize": 18, "fontWeight": "bold", "font": "Liberation Sans", "color": "black"},
        "encoding": {
          "x": {"field": "t", "type": "quantitative"},
          "y": {"field": "v", "type": "quantitative"},
          "text": {"field": "s", "type": "nominal"}
        }
      }
    ]
  },
  {
    "width": 438, "height": 325,
    "title": {"text": "b", "anchor": "start", "frame": "group", "orient": "top", "offset": -54, "dx": -100, "fontSize": 32, "baseline": "alphabetic"},
    "data": {"name": "iso"},
    "resolve": {"scale": {"shape": "independent", "stroke": "independent"}},
    "encoding": {
      "x": {"field": "p", "type": "quantitative", "scale": {"domain": [-0.012, 1.003], "nice": false, "zero": false},
            "axis": {"title": "Relative Pressure P/P₀", "values": [0,0.1,0.2,0.3,0.4,0.5,0.6,0.7,0.8,0.9,1.0],
                     "labelExpr": "round(datum.value*10) % 2 == 0 ? format(datum.value, '.1f') : ''",
                     "tickSize": {"condition": {"test": "round(datum.value*10) % 2 == 0", "value": 6}, "value": 3.5},
                     "labelFontSize": 21, "titleFontSize": 26, "labelPadding": 2, "titlePadding": 0}},
      "y": {"field": "v", "type": "quantitative", "scale": {"domain": [-40, 1502], "nice": false, "zero": false},
            "axis": {"title": "V(N₂) at STP / cm³g⁻¹", "values": [0,100,200,300,400,500,600,700,800,900,1000,1100,1200,1300,1400],
                     "labelExpr": "datum.value % 200 == 0 ? format(datum.value, 'd') : ''",
                     "tickSize": {"condition": {"test": "datum.value % 200 == 0", "value": -7}, "value": -4},
                     "labelFontSize": 22, "titleFontSize": 26, "labelPadding": 15, "titlePadding": 5}}
    },
    "layer": [
      {
        "mark": {"type": "line", "strokeWidth": 1, "clip": true},
        "encoding": {
          "detail": {"field": "b", "type": "nominal"},
          "stroke": {"field": "s", "type": "nominal", "legend": null,
                     "scale": {"domain": ["MIL-101","PVK-1@MIL-101","PVK-2@MIL-101","PVK-3@MIL-101"], "range": ["#000000","#FF00FF","#FF0000","#0000FF"]}}
        }
      },
      {
        "mark": {"type": "point", "fill": "white", "strokeWidth": 1, "opacity": 1, "size": 95, "clip": true},
        "encoding": {
          "stroke": {"field": "s", "type": "nominal", "legend": null,
                     "scale": {"domain": ["MIL-101","PVK-1@MIL-101","PVK-2@MIL-101","PVK-3@MIL-101"], "range": ["#000000","#FF00FF","#FF0000","#0000FF"]}},
          "shape": {"field": "s", "type": "nominal", "legend": null,
                    "scale": {"domain": ["MIL-101","PVK-1@MIL-101","PVK-2@MIL-101","PVK-3@MIL-101"], "range": ["square","triangle-down","circle","diamond"]}}
        }
      },
      {
        "transform": [{"filter": "datum.v > 100000"}],
        "mark": {"type": "point", "fill": "white", "strokeWidth": 1.2, "opacity": 1, "size": 100},
        "encoding": {
          "stroke": {"field": "s", "type": "nominal", "legend": {"title": null},
                     "scale": {"domain": ["MIL-101","PVK-1@MIL-101","PVK-2@MIL-101","PVK-3@MIL-101"], "range": ["#000000","#FF00FF","#FF0000","#0000FF"]}},
          "shape": {"field": "s", "type": "nominal", "legend": {"title": null},
                    "scale": {"domain": ["MIL-101","PVK-1@MIL-101","PVK-2@MIL-101","PVK-3@MIL-101"],
                              "range": ["M-3.3,0H-1M1,0H3.3M-1,-1H1V1H-1Z", "M-3.3,0H-1M1,0H3.3M-1.1,-0.85L1.1,-0.85L0,1.1Z", "M-3.3,0H-1M1,0H3.3M-1,0A1,1,0,1,0,1,0A1,1,0,1,0,-1,0Z", "M-3.3,0H-1.1M1.1,0H3.3M-1.1,0L0,-1L1.1,0L0,1Z"]}}
        }
      }
    ]
  }
]
}
